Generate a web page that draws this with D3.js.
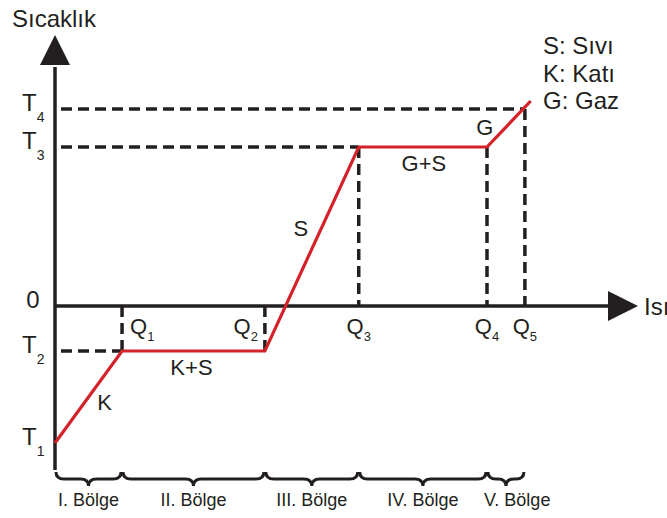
<!DOCTYPE html>
<html><head><meta charset="utf-8">
<script src="https://cdn.jsdelivr.net/npm/d3@7"></script>
<style>
body{margin:0;background:#fff}
svg{display:block}
text{font-family:"Liberation Sans",Arial,Helvetica,sans-serif;fill:#231f20}
</style>
</head><body>
<svg id="c" width="667" height="518"></svg>
<script>
// ---- data ----
const heatLabels = ["Q1", "Q2", "Q3", "Q4", "Q5"];
const heatValues = [11.5, 36.0, 52.1, 74.1, 80.6];
const tempLabels = ["T1", "T2", "T3", "T4"];
const tempValues = [-68.5, -22.5, 79.5, 98.5];
const curveHeat = [0, 11.5, 36.0, 52.1, 74.1, 81.6];
const curveTemp = [-68.5, -22.5, -22.5, 79.5, 79.5, 102.5];
const phaseLabels = ["K", "K+S", "S", "G+S", "G"];
const regionLabels = ["I. Bölge", "II. Bölge", "III. Bölge", "IV. Bölge", "V. Bölge"];
const legendLines = ["S: Sıvı", "K: Katı", "G: Gaz"];
const yTitle = "Sıcaklık", xTitle = "Isı", zeroLabel = "0";

// ---- layout ----
const svg = d3.select("#c");
const x = d3.scaleLinear().domain([0, 100]).range([55, 638]);
const y = d3.scaleLinear().domain([-82, 135.5]).range([470, 35]);
const INK = "#231f20", RED = "#d3222a";
const x0 = x(0), y0 = y(0);

// dashed guides
const gG = svg.append("g").attr("stroke", INK).attr("stroke-width", 3.5)
  .attr("stroke-dasharray", "11,6").attr("fill", "none");
const hGuides = [[1, 0], [2, 2], [3, 4]]; // [temp index, heat index]
hGuides.forEach(([ti, hi]) => {
  gG.append("line").attr("x1", x0 + 6).attr("x2", x(heatValues[hi]))
    .attr("y1", y(tempValues[ti])).attr("y2", y(tempValues[ti]));
});
const vGuideTemp = [1, 1, 2, 2, 3];
heatValues.forEach((h, i) => {
  gG.append("line").attr("x1", x(h)).attr("x2", x(h))
    .attr("y1", y(tempValues[vGuideTemp[i]])).attr("y2", y0);
});

// axes
const yArrowBase = y(135.5) + 30, xArrowBase = x(100) - 30;
svg.append("line").attr("x1", x0).attr("x2", x0).attr("y1", y(-82)).attr("y2", yArrowBase + 2)
  .attr("stroke", INK).attr("stroke-width", 3.5);
svg.append("path").attr("d", `M${x0 - 15},${yArrowBase}L${x0 + 15},${yArrowBase}L${x0},${y(135.5)}Z`).attr("fill", INK);
svg.append("line").attr("x1", x0).attr("x2", xArrowBase + 2).attr("y1", y0).attr("y2", y0)
  .attr("stroke", INK).attr("stroke-width", 3.5);
svg.append("path").attr("d", `M${xArrowBase},${y0 - 15}L${xArrowBase},${y0 + 15}L${x(100)},${y0}Z`).attr("fill", INK);

// heating curve
const pts = curveHeat.map((h, i) => [h, curveTemp[i]]);
svg.append("path").datum(pts)
  .attr("d", d3.line().x(d => x(d[0])).y(d => y(d[1])))
  .attr("fill", "none").attr("stroke", RED).attr("stroke-width", 3.2)
  .attr("stroke-linejoin", "miter");

// axis titles
svg.append("text").attr("x", 12).attr("y", 27).attr("font-size", 24).text(yTitle);
svg.append("text").attr("x", 644).attr("y", 315).attr("font-size", 24).text(xTitle);
svg.append("text").attr("x", 33).attr("y", y0 + 2).attr("font-size", 24)
  .attr("text-anchor", "middle").text(zeroLabel);

// T labels
tempLabels.forEach((t, i) => {
  const tx = svg.append("text").attr("x", 22).attr("y", y(tempValues[i]) + 2).attr("font-size", 24);
  tx.append("tspan").text(t[0]);
  tx.append("tspan").attr("font-size", 14).attr("dy", 11).text(t.slice(1));
});

// Q labels
heatLabels.forEach((q, i) => {
  const qx = x(heatValues[i]);
  const anchor = i === 0 ? "start" : i === 1 ? "end" : "middle";
  const px = i === 0 ? qx + 8 : i === 1 ? qx - 7 : qx;
  const tx = svg.append("text").attr("x", px).attr("y", y0 + 28).attr("font-size", 22)
    .attr("text-anchor", anchor);
  tx.append("tspan").text(q[0]);
  tx.append("tspan").attr("font-size", 13).attr("dy", 7).text(q.slice(1));
});

// phase labels near segment midpoints
const phaseOff = [[16, 5], [-2, 16], [-11, -21], [1, 16], [-24, 3]];
phaseLabels.forEach((p, i) => {
  const mx = (x(curveHeat[i]) + x(curveHeat[i + 1])) / 2;
  const my = (y(curveTemp[i]) + y(curveTemp[i + 1])) / 2;
  svg.append("text").attr("x", mx + phaseOff[i][0]).attr("y", my + phaseOff[i][1] + 8)
    .attr("font-size", 22).attr("text-anchor", "middle").text(p);
});

// legend
legendLines.forEach((l, i) => {
  svg.append("text").attr("x", 543).attr("y", 54 + i * 27.5).attr("font-size", 24).text(l);
});

// braces + region labels
const bounds = [0].concat(heatValues);
const braceTop = 472, braceH = 14;
function brace(x1, x2) {
  const q = braceH / 2, m = (x1 + x2) / 2, r = Math.min(8, (x2 - x1) / 4);
  return `M${x1},${braceTop}Q${x1},${braceTop + q} ${x1 + r},${braceTop + q}` +
    `L${m - r},${braceTop + q}Q${m},${braceTop + q} ${m},${braceTop + braceH}` +
    `Q${m},${braceTop + q} ${m + r},${braceTop + q}` +
    `L${x2 - r},${braceTop + q}Q${x2},${braceTop + q} ${x2},${braceTop}`;
}
regionLabels.forEach((lab, i) => {
  const a = x(bounds[i]) + 1, b = x(bounds[i + 1]) - 1;
  svg.append("path").attr("d", brace(a, b)).attr("fill", "none")
    .attr("stroke", INK).attr("stroke-width", 3);
  const t = svg.append("text").attr("y", 506).attr("font-size", 18)
    .attr("text-anchor", "middle").text(lab);
  const w = t.node().getComputedTextLength();
  t.attr("x", Math.max((a + b) / 2, a - 4 + w / 2));
});
</script>
</body></html>
